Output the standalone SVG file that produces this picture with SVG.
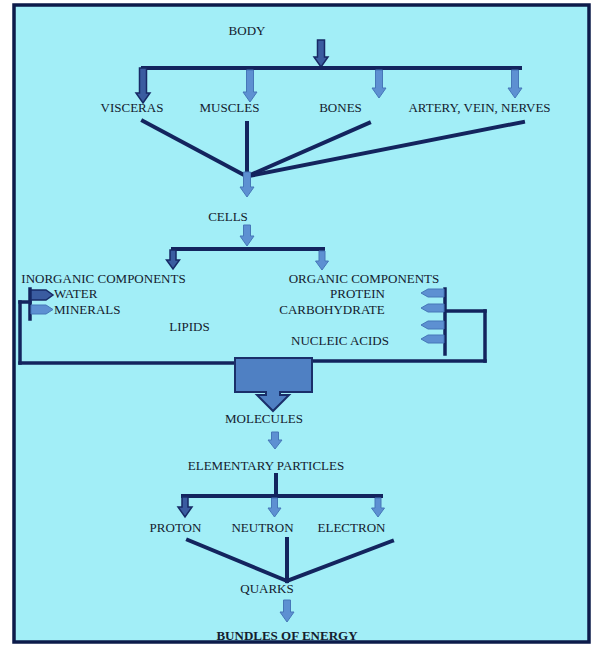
<svg xmlns="http://www.w3.org/2000/svg" width="592" height="645" viewBox="0 0 592 645">
<style>
text{font-family:"Liberation Serif","Times New Roman",serif;font-size:13px;fill:#14202e;text-anchor:middle}
.st{text-anchor:start}
.b{font-weight:bold}
.ln{stroke:#13245e;stroke-width:4;fill:none;stroke-linecap:square}
.ln3{stroke:#13245e;stroke-width:3.5;fill:none;stroke-linecap:square}
.ad{fill:#3a5ca0;stroke:#172a66;stroke-width:1.5;stroke-linejoin:miter}
.al{fill:#5d90d2;stroke:#4677b8;stroke-width:1}
</style>
<rect x="0" y="0" width="592" height="645" fill="#ffffff"/>
<rect x="14" y="5" width="575" height="637" fill="#a2eef7" stroke="#0d1b4a" stroke-width="3.5"/>

<g id="connectors">
  <polygon class="ad" points="317.5,40 324.5,40 324.5,57 328,57 321,67 314,57 317.5,57"/>
  <line class="ln" x1="143" y1="68" x2="520" y2="68"/>
  <polygon class="ad" points="139.5,68 146.5,68 146.5,93 150,93 143,103 136,93 139.5,93"/>
  <polygon class="al" points="246.5,70 253.5,70 253.5,92 257,92 250,102 243,92 246.5,92"/>
  <polygon class="al" points="375.5,70 382.5,70 382.5,88 386,88 379,98 372,88 375.5,88"/>
  <polygon class="al" points="511.5,70 518.5,70 518.5,88 522,88 515,98 508,88 511.5,88"/>
  <line class="ln" x1="143" y1="121" x2="246" y2="176"/>
  <line class="ln" x1="247" y1="123" x2="247" y2="176"/>
  <line class="ln" x1="369" y1="123" x2="248" y2="176"/>
  <line class="ln" x1="523" y1="122" x2="249" y2="176"/>
  <polygon class="al" points="243.5,172 250.5,172 250.5,187 254,187 247,197 240,187 243.5,187"/>
  <polygon class="al" points="243.5,225 250.5,225 250.5,236 254,236 247,246 240,236 243.5,236"/>
  <line class="ln" x1="173" y1="249" x2="323" y2="249"/>
  <polygon class="ad" points="170,250 176,250 176,260 179.5,260 173,269 166.5,260 170,260"/>
  <polygon class="al" points="319,251 325,251 325,261 328.5,261 322,270 315.5,261 319,261"/>
  <line class="ln3" x1="30" y1="289" x2="30" y2="319"/>
  <line class="ln3" x1="20" y1="302" x2="30" y2="302"/>
  <line class="ln3" x1="20" y1="302" x2="20" y2="363"/>
  <line class="ln3" x1="20" y1="363" x2="235" y2="363"/>
  <path class="ad" d="M31,290 H46 L53,295 L46,300 H31 Z"/>
  <path class="al" d="M31,305 H46 L53,309.5 L46,314 H31 Z"/>
  <line class="ln3" x1="445" y1="289" x2="445" y2="354"/>
  <line class="ln3" x1="445" y1="311" x2="485" y2="311"/>
  <line class="ln3" x1="485" y1="311" x2="485" y2="361"/>
  <line class="ln3" x1="312" y1="361" x2="485" y2="361"/>
  <path class="al" d="M444,289 H428 L421,293 L428,297 H444 Z"/>
  <path class="al" d="M444,304 H428 L421,308 L428,312 H444 Z"/>
  <path class="al" d="M444,321 H428 L421,325 L428,329 H444 Z"/>
  <path class="al" d="M444,335 H428 L421,339 L428,343 H444 Z"/>
  <path d="M235,358 H312 V392 H280 V395 H289 L273,411 L257,395 H266 V392 H235 Z" fill="#4f80c3" stroke="#1a2f6a" stroke-width="2"/>
  <polygon class="al" points="271.5,432 278.5,432 278.5,440 282,440 275,449 268,440 271.5,440"/>
  <line class="ln" x1="276" y1="475" x2="276" y2="496"/>
  <line class="ln" x1="183" y1="496" x2="381" y2="496"/>
  <polygon class="ad" points="182,497 188,497 188,507 192,507 185,517 178,507 182,507"/>
  <polygon class="al" points="271.5,498 277.5,498 277.5,508 281,508 274.5,517 268,508 271.5,508"/>
  <polygon class="al" points="375,498 381,498 381,508 384.5,508 378,517 371.5,508 375,508"/>
  <line class="ln" x1="188" y1="540" x2="287" y2="581"/>
  <line class="ln" x1="287" y1="539" x2="287" y2="581"/>
  <line class="ln" x1="392" y1="541" x2="287" y2="581"/>
  <polygon class="al" points="283.5,600 290.5,600 290.5,612 294,612 287,622 280,612 283.5,612"/>
</g>

<g id="body"><text x="247" y="35">BODY</text></g>
<g id="visceras"><text x="132" y="112">VISCERAS</text></g>
<g id="muscles"><text x="229.5" y="112">MUSCLES</text></g>
<g id="bones"><text x="340.5" y="112">BONES</text></g>
<g id="artery"><text x="479.5" y="112">ARTERY, VEIN, NERVES</text></g>
<g id="cells"><text x="228" y="220.5">CELLS</text></g>
<g id="inorganic"><text x="103.5" y="283">INORGANIC COMPONENTS</text></g>
<g id="organic"><text x="364" y="283">ORGANIC COMPONENTS</text></g>
<g id="water"><text class="st" x="54" y="298">WATER</text></g>
<g id="minerals"><text class="st" x="54" y="314">MINERALS</text></g>
<g id="lipids"><text x="189.5" y="331">LIPIDS</text></g>
<g id="protein"><text x="357.5" y="298">PROTEIN</text></g>
<g id="carbohydrate"><text x="332" y="314">CARBOHYDRATE</text></g>
<g id="nucleic"><text x="340" y="345">NUCLEIC ACIDS</text></g>
<g id="molecules"><text x="264" y="423">MOLECULES</text></g>
<g id="elementary"><text x="266" y="470">ELEMENTARY PARTICLES</text></g>
<g id="proton"><text x="175.5" y="532">PROTON</text></g>
<g id="neutron"><text x="262.5" y="532">NEUTRON</text></g>
<g id="electron"><text x="351.5" y="532">ELECTRON</text></g>
<g id="quarks"><text x="267" y="593">QUARKS</text></g>
<g id="energy"><text class="b" x="287" y="639.5">BUNDLES OF ENERGY</text></g>
</svg>
